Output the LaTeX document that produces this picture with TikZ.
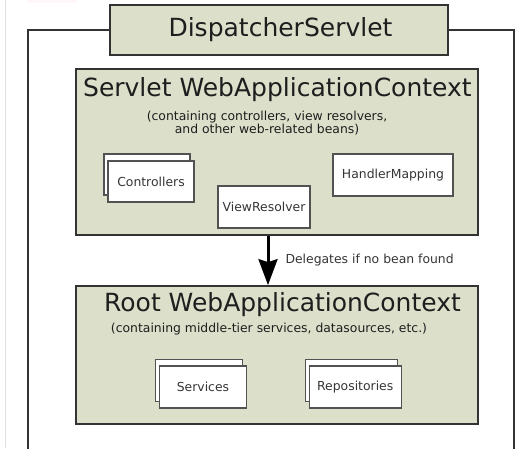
\documentclass[tikz,border=0pt]{standalone}
\usepackage{fontspec}
\setmainfont{DejaVu Sans}
\usetikzlibrary{arrows.meta}
\definecolor{ctxfill}{HTML}{DCE0CA}
\definecolor{edge}{HTML}{333333}
\definecolor{txt}{HTML}{1E1E1E}
\tikzset{
  ctxbox/.style={draw=edge, line width=1.7pt, fill=ctxfill, inner sep=0pt},
  smallbox/.style={draw=edge!85, line width=1.2pt, fill=white, inner sep=0pt,
    minimum height=42pt, font=\fontsize{12.4}{14}\selectfont, text=txt!90},
  bigtext/.style={font=\fontsize{25}{28}\selectfont, text=txt, inner sep=0pt},
  subtext/.style={font=\fontsize{12.4}{12.8}\selectfont, text=txt, align=center, inner sep=0pt},
  frameline/.style={draw=edge, line width=1.7pt},
  arr/.style={line width=3pt, -{Stealth[length=26pt, width=19pt, inset=3pt]}}
}
\begin{document}
\begin{tikzpicture}[x=1pt, y=-1pt]
\useasboundingbox (0,0) rectangle (518,448);
% faint scan artefacts
\draw[black!12, line width=0.8pt] (5.5,0) -- (5.5,448);
\fill[red!3] (27,0) rectangle (77,3);

% DispatcherServlet box and outer frame
\node[ctxbox, minimum width=338pt, minimum height=50pt] (disp) at (279,30) {};
\node[bigtext] (disptxt) at (280.5,30) {DispatcherServlet};
\coordinate (fl) at (28,449);
\coordinate (fr) at (514,449);
\draw[frameline] (disp.west) -| (fl);
\draw[frameline] (disp.east) -| (fr);

% Servlet WebApplicationContext
\node[ctxbox, minimum width=402pt, minimum height=166pt] (sctx) at (277,152) {};
\node[bigtext] (stitle) at (277.4,90) {Servlet WebApplicationContext};
\node[subtext] (ssub) at (267,123) {(containing controllers, view resolvers,\\and other web-related beans)};

\node[smallbox, minimum width=86pt, minimum height=41pt] (ctrlb) at (147,174.5) {};
\node[smallbox, minimum width=86pt, minimum height=41pt] (ctrl) at (151,181.4) {Controllers};
\node[smallbox, minimum width=92pt] (view) at (264,207) {ViewResolver};
\node[smallbox, minimum width=120pt] (hmap) at (393,175) {HandlerMapping};

% Root WebApplicationContext
\node[ctxbox, minimum width=402pt, minimum height=138pt] (rctx) at (277,355) {};
\node[bigtext] (rtitle) at (282.5,305) {Root WebApplicationContext};
\node[subtext] (rsub) at (269,329) {(containing middle-tier services, datasources, etc.)};

\node[smallbox, minimum width=87pt] (servb) at (199.2,380.8) {};
\node[smallbox, minimum width=87pt] (serv) at (203,387) {Services};
\node[smallbox, minimum width=92pt] (repob) at (351.3,380.2) {};
\node[smallbox, minimum width=92pt] (repo) at (355.2,387) {Repositories};

% Delegation arrow
\draw[arr, black] ([xshift=-9pt]sctx.south) -- ([xshift=-9pt]rctx.north)
  node[midway, anchor=west, xshift=16pt, subtext, text=txt!90] (deleg) {Delegates if no bean found};
\end{tikzpicture}
\end{document}
